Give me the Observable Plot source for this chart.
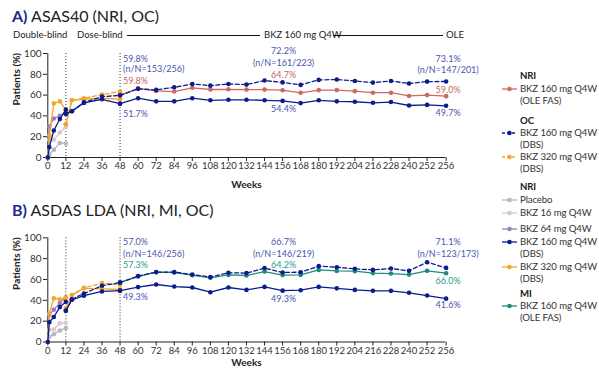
<!DOCTYPE html>
<html><head><meta charset="utf-8">
<script src="https://cdn.jsdelivr.net/npm/d3@7"></script>
<script src="https://cdn.jsdelivr.net/npm/@observablehq/plot@0.6"></script>
<style>
body{margin:0;background:#fff;font-family:Lato,"Open Sans",sans-serif;color:#222;}
#root{position:relative;width:599px;height:369px;overflow:hidden;background:#fff;}
.abs{position:absolute;white-space:nowrap;}
.title{font-size:16px;line-height:16px;color:#222;}
.title b{color:#1b2a8c;}
.hdr{font-size:9.5px;line-height:10px;color:#222;}
.hline{position:absolute;height:0;border-top:1px solid #111;}
.leg{font-size:9.6px;line-height:11.5px;color:#333;letter-spacing:-0.1px;}
.leg b{font-weight:bold;color:#222;}
svg.plot{position:absolute;left:0;}
</style></head><body><div id="root"></div><script>
// ---- data ----
const xTicks = [0,12,24,36,48,60,72,84,96,108,120,132,144,156,168,180,192,204,216,228,240,252,256];
const yTicks = [0,20,40,60,80,100];
const dbWeeks = [0,1,4,8,12];
const dbsWeeks = [12,16,24,36,48];
const oleWeeks = [48,60,72,84,96,108,120,132,144,156,168,180,192,204,216,228,240,252,256];

// Panel A: ASAS40
const aPlacebo = [0,3,7.5,14,13.5];
const aBkz16 = [0,17,17,24,29.5];
const aBkz64 = [0,30,37.5,40,42.6];
const aBkz160Db = [0,10,26,37,46];
const aBkz320Db = [0,21,52,54,45.5];
const aBkz160DbsNri = [42,44.5,52.5,56,51.7];
const aBkz160DbsOc = [42,44.5,53,58.5,59.8];
const aBkz320DbsNri = [32,55,56,57,56];
const aBkz320DbsOc = [32,55,57,60.5,63.5];
const aOleFasNri = [59.8,66.5,64,63.4,67,65.4,65.6,65.3,65.3,64.7,62.2,64.8,64.8,63.8,62.3,62.3,59.2,60,59.0];
const aOleDbsNri = [51.7,57,54,54,57,55,55.5,55.5,55,54.4,52.3,55,54,53.6,52.6,53.3,50,50.6,49.7];
const aOleDbsOc = [59.8,66,65,67.5,70.7,69.1,70.7,70.1,74,72.2,69.8,74.6,75,73.6,72,73.6,71.1,73,73.1];

// Panel B: ASDAS LDA
const bPlacebo = [0,5,7.5,11,13.5];
const bBkz16 = [0,11.5,12,18,18.5];
const bBkz64 = [0,26,31,37.5,43];
const bBkz160Db = [0,19,24,33.5,38.5];
const bBkz320Db = [0,27,42,41,42.4];
const bBkz160DbsNri = [30,40.5,44.5,48.5,49.3];
const bBkz160DbsOc = [30,41,46.5,54,57.0];
const bBkz320DbsNri = [32,45,51.5,51,50.5];
const bBkz320DbsOc = [32,45,52,56.5,55];
const bOleFasMi = [57.3,62.8,67,66.7,64.1,61.6,64.4,63.8,67.6,64.2,64.4,69.2,68.2,68,66.1,65.7,64.7,68.3,66.0];
const bOleDbsNri = [49.3,52.7,55.2,53.2,52.3,47.8,52.3,50,52.9,49.3,49.7,52.9,51.5,50,49.1,49.1,47.2,44.6,41.6];
const bOleDbsOc = [57.0,63.3,67.1,67.1,64.8,62.3,66.5,66.1,70.9,66.7,67,72.8,71.8,70.2,69.2,70.5,68.3,76.6,71.1];

// annotation texts
const aLabels48 = ["59.8%","(n/N=153/256)","59.8%","51.7%"];
const aLabels156 = ["72.2%","(n/N=161/223)","64.7%","54.4%"];
const aLabels256 = ["73.1%","(n/N=147/201)","59.0%","49.7%"];
const bLabels48 = ["57.0%","(n/N=146/256)","57.3%","49.3%"];
const bLabels156 = ["66.7%","(n/N=146/219)","64.2%","49.3%"];
const bLabels256 = ["71.1%","(n/N=123/173)","66.0%","41.6%"];

// ---- styles ----
const C = {navy:"#0b1d8e", orange:"#f4a52c", red:"#cc6962", grey:"#b8b8b8", pink:"#dcc6d7",
  purple:"#9d7dc0", teal:"#1d8c7b", annNavy:"#4a56b0", annRed:"#c9665e", annTeal:"#2b9b86"};

function series(weeks, values, color, dashed){
  const data = weeks.map((w,i)=>({week:w, value:values[i]}));
  return [
    Plot.line(data,{x:"week",y:"value",stroke:color,strokeWidth:1.3,strokeDasharray:dashed?"4,2.5":null}),
    Plot.dot(data,{x:"week",y:"value",fill:color,r:2.3})
  ];
}
function ann(week, texts, ys, colors, anchor, dx){
  return texts.map((t,i)=>Plot.text([t],{x:()=>week,y:()=>ys[i],text:d=>d,fill:colors[i],
    textAnchor:anchor,dx:dx,fontSize:9,fontFamily:"Lato"}));
}

function panel(opts){
  return Plot.plot({
    width:599, height:opts.height, marginTop:opts.mt, marginBottom:opts.mb, marginLeft:47, marginRight:154,
    x:{type:"linear", domain:[0,252,256], range:[47.3,426.6,445.6]},
    y:{domain:[0,100]},
    style:{fontFamily:"Lato", fontSize:"9.5px", color:"#333", background:"transparent", overflow:"visible"},
    marks:[
      Plot.ruleX([12,48],{stroke:"#333",strokeWidth:1,strokeDasharray:"1,2"}),
      Plot.axisX(xTicks,{tickSize:4,tickPadding:1,label:null,fontSize:9.5,stroke:"#222"}),
      Plot.axisY(yTicks,{tickSize:4,tickPadding:2,label:null,fontSize:10,stroke:"#222"}),
      Plot.ruleX([0],{stroke:"#222"}),
      Plot.ruleY([0],{stroke:"#222"}),
      Plot.text(["Patients (%)"],{frameAnchor:"left",dx:-31,rotate:-90,fontWeight:"bold",fontSize:10,fill:"#222"}),
      Plot.text(["Weeks"],{frameAnchor:"bottom",dy:opts.weeksDy,fontWeight:"bold",fontSize:10,fill:"#222"}),
      ...opts.marks
    ]
  });
}

const marksA = [
  ...series(dbWeeks,aPlacebo,C.grey),
  ...series(dbWeeks,aBkz16,C.pink),
  ...series(dbWeeks,aBkz64,C.purple),
  ...series(dbWeeks,aBkz320Db,C.orange),
  ...series(dbWeeks,aBkz160Db,C.navy),
  ...series(dbsWeeks,aBkz320DbsOc,C.orange,true),
  ...series(dbsWeeks,aBkz320DbsNri,C.orange),
  ...series(dbsWeeks,aBkz160DbsOc,C.navy,true),
  ...series(dbsWeeks,aBkz160DbsNri,C.navy),
  ...series(oleWeeks,aOleFasNri,C.red),
  ...series(oleWeeks,aOleDbsOc,C.navy,true),
  ...series(oleWeeks,aOleDbsNri,C.navy),
  ...ann(48,aLabels48,[94.7,85.1,73.1,41.8],[C.annNavy,C.annNavy,C.annRed,C.annNavy],"start",3),
  ...ann(156,aLabels156,[101.9,91,79.5,46.2],[C.annNavy,C.annNavy,C.annRed,C.annNavy],"middle",1),
  ...ann(256,aLabels256,[95,84.3,64.4,43],[C.annNavy,C.annNavy,C.annRed,C.annNavy],"middle",2)
];
const marksB = [
  ...series(dbWeeks,bPlacebo,C.grey),
  ...series(dbWeeks,bBkz16,C.pink),
  ...series(dbWeeks,bBkz64,C.purple),
  ...series(dbWeeks,bBkz320Db,C.orange),
  ...series(dbWeeks,bBkz160Db,C.navy),
  ...series(dbsWeeks,bBkz320DbsOc,C.orange,true),
  ...series(dbsWeeks,bBkz320DbsNri,C.orange),
  ...series(dbsWeeks,bBkz160DbsOc,C.navy,true),
  ...series(dbsWeeks,bBkz160DbsNri,C.navy),
  ...series(oleWeeks,bOleFasMi,C.teal),
  ...series(oleWeeks,bOleDbsOc,C.navy,true),
  ...series(oleWeeks,bOleDbsNri,C.navy),
  ...ann(48,bLabels48,[95.8,84.6,74.1,43],[C.annNavy,C.annNavy,C.annTeal,C.annNavy],"start",3),
  ...ann(156,bLabels156,[95.8,84.6,74.1,41.5],[C.annNavy,C.annNavy,C.annTeal,C.annNavy],"middle",1),
  ...ann(256,bLabels256,[95.8,84,58.7,35],[C.annNavy,C.annNavy,C.annTeal,C.annNavy],"middle",2)
];

const root = document.getElementById("root");
function add(html){ root.insertAdjacentHTML("beforeend", html); }

add('<div class="abs title" style="left:12px;top:8px;"><b>A)</b> ASAS40 (NRI, OC)</div>');
add('<div class="abs hdr" style="left:13px;top:30px;">Double-blind</div>');
add('<div class="abs hdr" style="left:77px;top:30px;">Dose-blind</div>');
add('<div class="hline" style="left:127px;top:35px;width:133px;"></div>');
add('<div class="abs hdr" style="left:264px;top:30px;">BKZ 160 mg Q4W</div>');
add('<div class="hline" style="left:333px;top:35px;width:110px;"></div>');
add('<div class="abs hdr" style="left:446px;top:30px;">OLE</div>');
add('<div class="abs title" style="left:12px;top:202px;"><b>B)</b> ASDAS LDA (NRI, MI, OC)</div>');

const pA = panel({height:155, mt:13, mb:38, weeksDy:30, marks:marksA});
pA.style.top = "40px"; pA.classList.add("plot");
root.appendChild(pA);
const pB = panel({height:144, mt:12.3, mb:27.5, weeksDy:23.5, marks:marksB});
pB.style.top = "225px"; pB.classList.add("plot");
root.appendChild(pB);

// legend
function sym(color, dashed){
  return `<svg width="16" height="8" style="position:absolute;left:-18px;top:2px;overflow:visible">
    <line x1="0" x2="15" y1="4" y2="4" stroke="${color}" stroke-width="1.3" ${dashed?'stroke-dasharray="3,2"':''}/>
    <circle cx="7.5" cy="4" r="2.3" fill="${color}"/></svg>`;
}
const legendItems = [
  {t:"NRI", head:true, y:70},
  {t:"BKZ 160 mg Q4W<br>(OLE FAS)", c:C.red, y:83},
  {t:"OC", head:true, y:115},
  {t:"BKZ 160 mg Q4W<br>(DBS)", c:C.navy, d:true, y:127},
  {t:"BKZ 320 mg Q4W<br>(DBS)", c:C.orange, d:true, y:151},
  {t:"NRI", head:true, y:181},
  {t:"Placebo", c:C.grey, y:194},
  {t:"BKZ 16 mg Q4W", c:C.pink, y:207},
  {t:"BKZ 64 mg Q4W", c:C.purple, y:223},
  {t:"BKZ 160 mg Q4W<br>(DBS)", c:C.navy, y:236},
  {t:"BKZ 320 mg Q4W<br>(DBS)", c:C.orange, y:261},
  {t:"MI", head:true, y:288},
  {t:"BKZ 160 mg Q4W<br>(OLE FAS)", c:C.teal, y:300}
];
legendItems.forEach(it=>{
  if(it.head) add(`<div class="abs leg" style="left:520px;top:${it.y}px;"><b>${it.t}</b></div>`);
  else add(`<div class="abs leg" style="left:520px;top:${it.y}px;">${sym(it.c,it.d)}${it.t}</div>`);
});
</script></body></html>
